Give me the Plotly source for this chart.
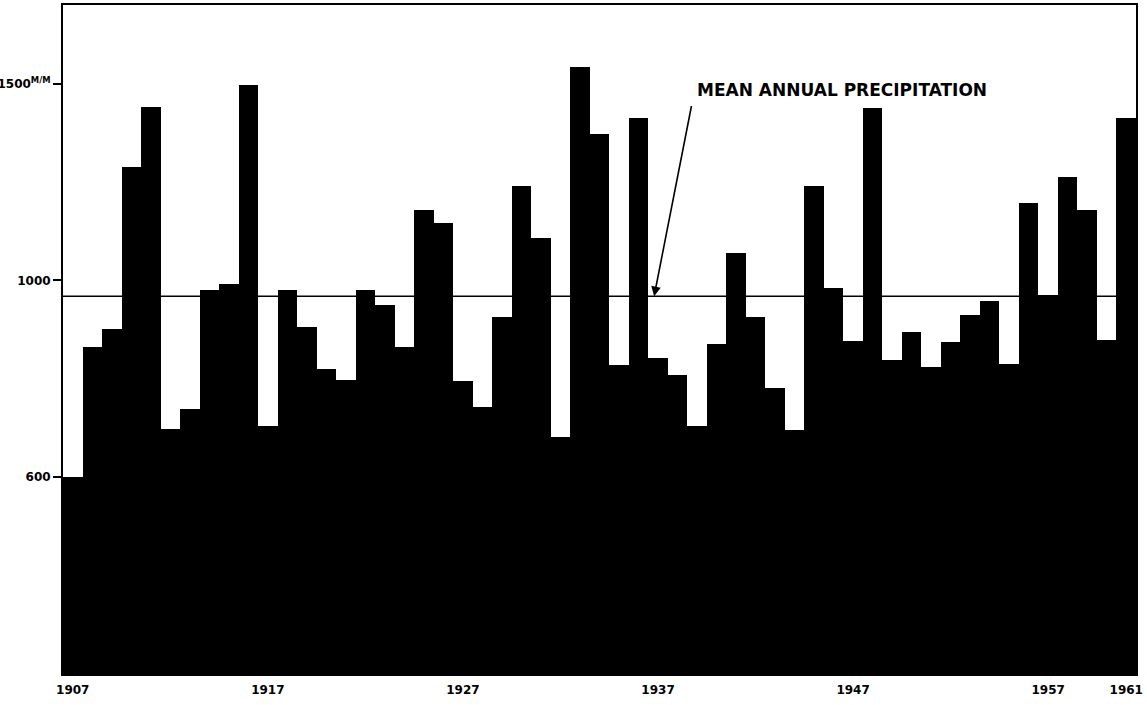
import plotly.graph_objects as go

years = list(range(1907, 1962))
precip_mm = [
    500, 832, 876, 1289, 1442, 622, 673, 975, 990, 1497,
    629, 977, 883, 774, 746, 977, 937, 832, 1180, 1147,
    744, 678, 906, 1241, 1107, 602, 1543, 1371, 784, 1414,
    802, 759, 629, 838, 1069, 906, 728, 619, 1239, 980,
    845, 1439, 799, 868, 779, 843, 911, 949, 787, 1198,
    964, 1264, 1180, 850, 1414,
]
mean_annual = 960
x_tick_years = [1907, 1917, 1927, 1937, 1947, 1957, 1961]
y_tick_vals = [500, 1000, 1500]
y_tick_text = ["600", "1000", "1500<sup>M/M</sup>"]
annotation_text = "MEAN ANNUAL PRECIPITATION"

fig = go.Figure()
fig.add_trace(go.Bar(
    x=years, y=precip_mm,
    marker=dict(color="black", line=dict(width=0)),
    width=1.0,
    showlegend=False,
))

fig.add_shape(type="line", xref="paper", x0=0, x1=1, yref="y",
              y0=mean_annual, y1=mean_annual,
              line=dict(color="black", width=1.6), layer="above")

# arrow pointing to the mean line
fig.add_annotation(x=1936.8, y=mean_annual, ax=1938.8, ay=1465,
                   axref="x", ayref="y", xref="x", yref="y",
                   text=" ", showarrow=True, arrowhead=2, arrowsize=1.2,
                   arrowwidth=1.6, arrowcolor="black")
fig.add_annotation(x=1938.9, y=1485, xref="x", yref="y",
                   text=annotation_text, showarrow=False,
                   xanchor="left", yanchor="middle",
                   font=dict(family="DejaVu Sans", size=17, weight="bold",
                             color="black"))

fig.update_layout(
    width=1147, height=705,
    margin=dict(l=63, r=11, t=5, b=31, autoexpand=False),
    paper_bgcolor="white", plot_bgcolor="white",
    bargap=0,
    font=dict(family="DejaVu Sans", color="black"),
)
fig.update_xaxes(
    range=[1906.5, 1961.5], automargin=False,
    tickvals=x_tick_years, ticktext=[str(y) for y in x_tick_years],
    showgrid=False, zeroline=False,
    showline=True, linecolor="black", linewidth=2, mirror=True,
    ticks="", ticklabelstandoff=4,
    tickfont=dict(family="DejaVu Sans", size=12, weight="bold"),
)
fig.update_yaxes(
    range=[0, 1700], automargin=False,
    tickvals=y_tick_vals, ticktext=y_tick_text,
    showgrid=False, zeroline=False,
    showline=True, linecolor="black", linewidth=2, mirror=True,
    ticks="outside", ticklen=8, tickwidth=1.5, tickcolor="black",
    tickfont=dict(family="DejaVu Sans", size=12, weight="bold"),
)

fig.write_html(
    "out.html",
    config={"displayModeBar": False},
    post_script="document.body.style.margin='0px';document.body.style.overflow='hidden';",
)
